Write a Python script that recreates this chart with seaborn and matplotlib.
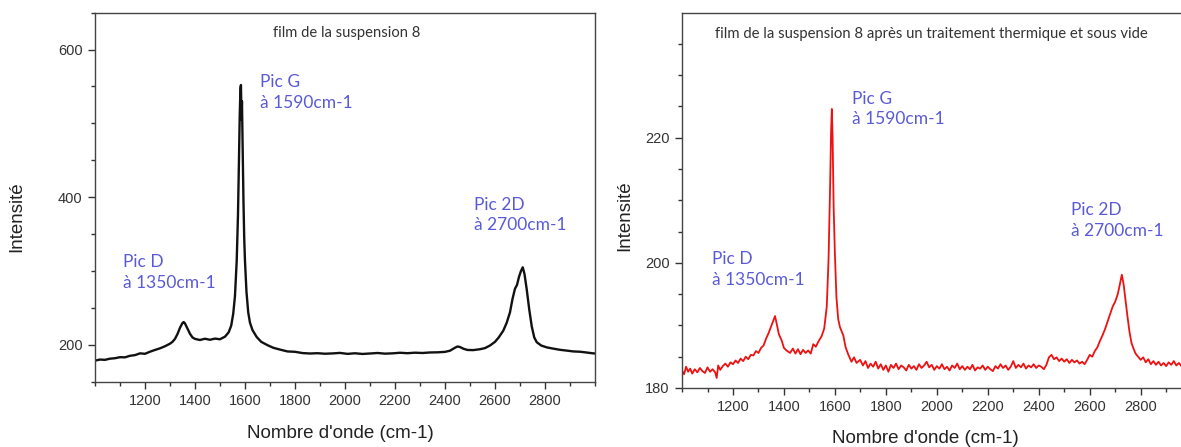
import matplotlib
matplotlib.use("Agg")
import matplotlib.pyplot as plt
from matplotlib.ticker import FixedLocator, MultipleLocator
import pandas as pd
import seaborn as sns

# spectre du film (suspension 8)
wavenumber_a = [1000, 1020, 1040, 1060, 1080, 1100, 1120, 1140, 1160, 1180, 1200, 1220, 1240,
                1260, 1280, 1300, 1310, 1320, 1330, 1340, 1350, 1355, 1360, 1370, 1380, 1390,
                1400, 1420, 1440, 1460, 1480, 1500, 1520, 1535, 1545, 1553, 1560, 1567, 1572,
                1576, 1579, 1582, 1584, 1586, 1588, 1591, 1594, 1597, 1600, 1606, 1613, 1620,
                1630, 1647, 1665, 1690, 1713, 1740, 1770, 1800, 1830, 1860, 1890, 1920, 1950,
                1980, 2010, 2040, 2070, 2100, 2130, 2160, 2190, 2220, 2250, 2280, 2310, 2340,
                2370, 2400, 2420, 2440, 2450, 2460, 2475, 2490, 2513, 2540, 2560, 2580, 2600,
                2615, 2633, 2647, 2660, 2670, 2680, 2688, 2696, 2704, 2711, 2718, 2727, 2737,
                2747, 2757, 2767, 2785, 2807, 2830, 2860, 2890, 2913, 2940, 2965, 2990, 3000]
intensity_a = [178.5, 180.0, 179.6, 181.2, 181.8, 183.2, 183.0, 185.1, 186.0, 188.4, 187.8, 190.6,
               193.0, 195.2, 198.0, 201.5, 204.0, 208.0, 214.5, 223.0, 229.5, 230.8, 229.0, 222.0,
               215.0, 210.0, 208.0, 206.5, 208.2, 206.8, 208.4, 207.5, 211.0, 217.0, 226.0, 242.0,
               266.0, 314.0, 375.0, 450.0, 510.0, 548.0, 552.0, 505.0, 530.0, 462.0, 395.0, 345.0,
               314.0, 272.0, 244.0, 230.0, 220.0, 210.5, 204.0, 199.5, 196.0, 193.5, 191.0, 190.5,
               188.8, 188.2, 188.6, 187.9, 188.3, 189.0, 187.7, 188.5, 187.6, 188.2, 188.9, 188.0,
               188.4, 189.2, 188.6, 189.3, 188.9, 189.6, 189.8, 190.4, 192.0, 196.0, 197.7, 197.0,
               194.5, 193.0, 192.8, 194.0, 195.5, 199.0, 204.0, 210.0, 219.0, 230.0, 244.0, 262.0,
               276.0, 281.0, 292.0, 300.0, 305.0, 296.0, 275.0, 248.0, 225.0, 210.0, 203.5, 199.0,
               196.5, 195.0, 193.2, 192.0, 191.0, 190.6, 189.6, 188.5, 188.2]

# spectre après traitement thermique et sous vide
wavenumber_b = [1000, 1008, 1016, 1024, 1032, 1040, 1050, 1060, 1070, 1080, 1090, 1100, 1110,
                1120, 1130, 1136, 1142, 1150, 1160, 1170, 1180, 1190, 1200, 1210, 1220, 1230,
                1240, 1250, 1260, 1270, 1280, 1290, 1300, 1310, 1320, 1330, 1340, 1350, 1358,
                1365, 1372, 1380, 1391, 1400, 1410, 1424, 1435, 1445, 1455, 1465, 1475, 1485,
                1495, 1505, 1515, 1525, 1535, 1548, 1558, 1568, 1575, 1581, 1585, 1588, 1591,
                1595, 1600, 1606, 1613, 1620, 1627, 1633, 1642, 1653, 1665, 1675, 1685, 1699,
                1710, 1720, 1730, 1740, 1750, 1760, 1770, 1780, 1790, 1800, 1810, 1820, 1830,
                1840, 1850, 1860, 1870, 1880, 1890, 1900, 1910, 1920, 1930, 1940, 1950, 1960,
                1970, 1980, 1990, 2000, 2010, 2020, 2030, 2040, 2050, 2060, 2070, 2080, 2090,
                2100, 2110, 2120, 2130, 2140, 2150, 2160, 2170, 2180, 2190, 2200, 2210, 2220,
                2230, 2240, 2250, 2260, 2270, 2280, 2290, 2300, 2310, 2320, 2330, 2340, 2350,
                2360, 2370, 2380, 2390, 2400, 2410, 2420, 2430, 2440, 2450, 2460, 2470, 2480,
                2490, 2500, 2510, 2520, 2530, 2540, 2550, 2560, 2570, 2580, 2590, 2600, 2610,
                2620, 2630, 2640, 2650, 2660, 2670, 2680, 2690, 2700, 2710, 2718, 2726, 2733,
                2740, 2748, 2756, 2764, 2771, 2780, 2790, 2800, 2810, 2820, 2830, 2840, 2850,
                2860, 2870, 2880, 2890, 2900, 2910, 2920, 2930, 2940, 2950, 2960, 2970, 2980,
                2990, 3000]
intensity_b = [182.8, 182.2, 183.4, 182.6, 183.1, 182.3, 183.0, 182.5, 183.2, 182.7, 182.4, 183.3,
               182.6, 183.0, 182.5, 181.6, 183.6, 182.9, 183.5, 183.9, 183.4, 184.1, 183.8, 184.4,
               184.0, 184.7, 184.3, 185.0, 184.6, 185.3, 185.2, 185.9, 185.6, 186.4, 186.8, 187.9,
               188.8, 189.9, 190.8, 191.5, 190.2, 188.6, 187.6, 186.4, 186.0, 185.6, 186.3, 185.5,
               186.2, 185.4, 186.1, 185.6, 186.0, 185.5, 187.0, 186.6, 187.4, 188.3, 189.5, 193.0,
               200.5, 212.0, 221.0, 224.6, 220.0, 209.0, 201.4, 194.5, 191.0, 189.7, 189.0, 188.4,
               186.5, 185.3, 184.2, 184.9, 184.0, 184.5, 183.6, 184.3, 183.2, 183.9, 183.4, 184.2,
               183.1, 183.8, 182.9, 183.6, 182.6, 183.7, 183.2, 183.9, 183.0, 183.6, 183.3, 182.8,
               183.7, 183.1, 183.5, 182.9, 183.8, 183.2, 183.6, 184.2, 183.3, 183.7, 182.9, 183.5,
               183.1, 183.8, 183.0, 183.4, 182.8, 183.6, 183.2, 183.9, 183.0, 183.5, 182.9, 183.4,
               183.0, 183.7, 182.8, 183.3, 183.1, 183.6, 182.9, 183.4, 183.0, 182.7, 183.5, 183.1,
               183.8, 183.2, 183.6, 182.9, 183.4, 184.3, 183.2, 183.7, 183.3, 183.9, 183.1, 183.6,
               183.3, 183.8, 183.2, 183.6, 183.4, 183.0, 183.7, 184.9, 185.3, 184.6, 184.9, 184.3,
               184.7, 184.2, 184.6, 184.0, 184.5, 184.1, 184.4, 183.9, 184.2, 183.8, 184.5, 185.3,
               185.0, 185.9, 186.5, 187.5, 188.4, 189.4, 190.6, 191.8, 193.0, 193.8, 195.0, 196.5,
               198.1, 196.6, 194.2, 191.5, 189.0, 187.2, 186.4, 185.5, 185.0, 184.5, 184.9, 184.1,
               184.6, 183.8, 184.3, 183.7, 184.2, 183.6, 184.0, 183.5, 184.1, 183.7, 184.3, 183.6,
               184.0, 183.5, 184.4, 183.8, 184.1, 183.9]

titles = ["film de la suspension 8",
          "film de la suspension 8 après un traitement thermique et sous vide"]
peak_labels = ["Pic D\nà 1350cm-1", "Pic G\nà 1590cm-1", "Pic 2D\nà 2700cm-1"]

sns.set_theme(style="ticks")
plt.rcParams["font.family"] = ["Liberation Sans", "DejaVu Sans"]
plt.rcParams["axes.linewidth"] = 1.0

fig = plt.figure(figsize=(11.81, 4.47), dpi=100)
ax1 = fig.add_axes([0.0804, 0.1461, 0.4234, 0.8255])
ax2 = fig.add_axes([0.5775, 0.1320, 0.4315, 0.8383])

df_a = pd.DataFrame({"x": wavenumber_a, "y": intensity_a})
df_b = pd.DataFrame({"x": wavenumber_b, "y": intensity_b})
sns.lineplot(data=df_a, x="x", y="y", ax=ax1, color="#111111", linewidth=1.7,
             estimator=None, sort=False)
sns.lineplot(data=df_b, x="x", y="y", ax=ax2, color="#ee1111", linewidth=1.3,
             estimator=None, sort=False)

ax1.set_ylim(150, 650)
ax2.set_ylim(180, 239.9)
ax1.yaxis.set_major_locator(FixedLocator([200, 400, 600]))
ax1.yaxis.set_minor_locator(MultipleLocator(50))
ax2.yaxis.set_major_locator(FixedLocator([180, 200, 220]))
ax2.yaxis.set_minor_locator(MultipleLocator(5))

# positions des annotations (cm-1, intensité)
annot_pos = {
    ax1: [(1113, 298), (1660, 542), (2518, 376)],
    ax2: [(1117, 198.9), (1666, 224.6), (2525, 206.8)],
}

for ax, title, tx, tsize in [(ax1, titles[0], 0.504, 10.6), (ax2, titles[1], 0.49, 10.7)]:
    ax.set_xlim(1000, 3000)
    ax.xaxis.set_major_locator(FixedLocator(list(range(1200, 2801, 200))))
    ax.xaxis.set_minor_locator(MultipleLocator(100))
    for side in ["top", "right", "left", "bottom"]:
        ax.spines[side].set_visible(True)
        ax.spines[side].set_color("#444444")
    ax.tick_params(which="major", direction="out", length=4.8, width=1.0,
                   color="#333333", labelsize=10.5, labelcolor="#333333", pad=4)
    ax.tick_params(which="minor", direction="out", length=2.8, width=1.0, color="#333333")
    ax.set_xlabel("Nombre d'onde (cm-1)", fontsize=13.5, color="#222222")
    ax.set_ylabel("Intensité", fontsize=13.5, color="#222222")
    ax.text(tx, 0.944, title, transform=ax.transAxes, ha="center", va="center",
            fontsize=tsize, color="#333333", family=["Lato", "DejaVu Sans"])
    for (px, py), label in zip(annot_pos[ax], peak_labels):
        ax.text(px, py, label, ha="left", va="center", fontsize=12.5, color="#5a5ad8",
                family=["Lato", "DejaVu Sans"], linespacing=1.35)

ax1.xaxis.set_label_coords(0.49, -0.117)
ax1.yaxis.set_label_coords(-0.14, 0.447)
ax2.xaxis.set_label_coords(0.477, -0.112)
ax2.yaxis.set_label_coords(-0.096, 0.459)

fig.savefig("out.png", dpi=100)
plt.close(fig)
